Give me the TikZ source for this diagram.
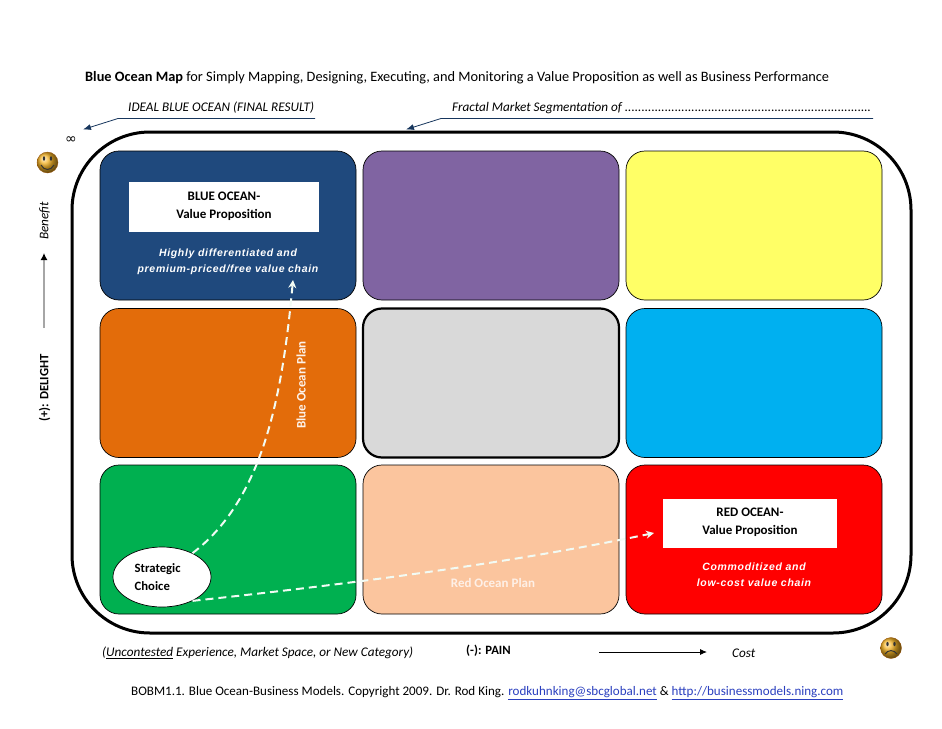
\documentclass[tikz,border=0pt]{standalone}
\usepackage{fontspec}
\setmainfont{Carlito}
\newfontfamily\arialf[LetterSpace=6.5]{Liberation Sans}
\newfontfamily\dejavuf{DejaVu Sans}
\usetikzlibrary{arrows.meta,shapes.geometric}
\definecolor{navy}{HTML}{17365D}
\definecolor{lnk}{HTML}{2A3FBF}
\definecolor{cblue}{HTML}{1F497D}
\definecolor{cpurple}{HTML}{8064A2}
\definecolor{cyellow}{HTML}{FFFF66}
\definecolor{corange}{HTML}{E36C0A}
\definecolor{cgray}{HTML}{D9D9D9}
\definecolor{ccyan}{HTML}{00B0F0}
\definecolor{cgreen}{HTML}{00B050}
\definecolor{cpeach}{HTML}{FBC59E}
\definecolor{cred}{HTML}{FF0000}
\definecolor{dashw}{HTML}{F2FBF4}
\definecolor{faceo}{HTML}{F5B324}
\tikzset{
 cell/.style={draw=black,line width=.7pt,rounded corners=19pt,minimum width=256pt,minimum height=149pt,inner sep=0pt},
 vbox/.style={fill=white,inner sep=0pt,align=center,font=\fontsize{13}{18}\selectfont\bfseries},
 slogan/.style={text=white,align=center,inner sep=0pt,font=\arialf\fontsize{10.5}{16}\selectfont\bfseries\itshape},
 lab/.style={inner sep=0pt,font=\fontsize{13.05}{15}\selectfont},
 ilab/.style={inner sep=0pt,font=\fontsize{13.2}{15}\selectfont\itshape},
 blab/.style={inner sep=0pt,font=\fontsize{12.7}{15}\selectfont\bfseries},
 pointer/.style={draw=navy,line width=.8pt,-{Latex[length=8pt,width=6pt]}},
 plan/.style={draw=dashw,line width=2pt,dash pattern=on 8pt off 5pt,-{Stealth[length=8pt,width=8pt]}},
 axis/.style={line width=.9pt,-{Latex[length=7pt,width=6pt]}},
 garrow/.style={draw=black!35,line width=1.3pt,-{Latex[length=7pt,width=7pt,black]}},
 face/.style={circle,minimum size=21pt,inner sep=0pt,ball color=faceo,draw=orange!60!black,line width=.3pt},
 planlab/.style={inner sep=0pt,font=\fontsize{13}{15}\selectfont\bfseries},
}
\begin{document}
\begin{tikzpicture}[x=1pt,y=-1pt]
\useasboundingbox (0,0) rectangle (942,728);
\fill[white] (0,0) rectangle (942,728);
% frame
\node[draw=black,line width=3pt,rounded corners=78pt,minimum width=839pt,minimum height=501pt,inner sep=0pt] (frame) at (491.5,382.5) {};
% cells
\node[cell,fill=cblue] (c11) at (228,225.5) {};
\node[cell,fill=cpurple] (c12) at (491,225.5) {};
\node[cell,fill=cyellow] (c13) at (754,225.5) {};
\node[cell,fill=corange] (c21) at (228,383) {};
\node[cell,fill=cgray,line width=2.2pt] (c22) at (491,383) {};
\node[cell,fill=ccyan] (c23) at (754,383) {};
\node[cell,fill=cgreen] (c31) at (228,539.5) {};
\node[cell,fill=cpeach] (c32) at (491,539.5) {};
\node[cell,fill=cred] (c33) at (754,539.5) {};
% value boxes
\node[vbox,minimum width=190pt,minimum height=50pt] (bv) at (224,207) {BLUE OCEAN-\\Value Proposition\\[-14pt]};
\node[vbox,minimum width=174pt,minimum height=49pt] (rv) at (750,523.5) {RED OCEAN-\\Value Proposition\\[-14pt]};
\node[slogan] (bs) at (228,262) {Highly differentiated and\\premium-priced/free value chain};
\node[slogan] (rs) at (754,575) {Commoditized and\\low-cost value chain};
% strategic choice
\node[ellipse,draw=black,line width=.7pt,fill=white,minimum width=98pt,minimum height=60pt,inner sep=0pt] (sc) at (162,577) {};
\node[anchor=west,align=left,inner sep=0pt,font=\fontsize{12.7}{18}\selectfont\bfseries] (sct) at (134.5,577) {Strategic\\Choice};
% plan arrows
\coordinate (bend) at (293,280);
\coordinate (rend) at (654,533);
\draw[plan] (sc.38) .. controls (262,500) and (282,400) .. (bend);
\draw[plan] (sc.-38) .. controls (340,585) and (500,565) .. (rend);
\node[rotate=90,planlab,text=white!92!corange] (bp) at (301,385) {Blue Ocean Plan};
\node[planlab,text=white!75!cpeach] (rp) at (493,583) {Red Ocean Plan};
% title and top labels
\node[anchor=west,inner sep=0pt,font=\fontsize{14.33}{16}\selectfont] (title) at (85,77.5) {\textbf{Blue Ocean Map} for Simply Mapping, Designing, Executing, and Monitoring a Value Proposition as well as Business Performance};
\node[ilab,anchor=west] (ideal) at (128,108) {IDEAL BLUE OCEAN (FINAL RESULT)};
\node[ilab,anchor=west] (fractal) at (452,108) {Fractal Market Segmentation of ..........................................................................};
\coordinate (i0) at (315,118.5);
\coordinate (i1) at (118,118.5);
\coordinate (i2) at (83,129.5);
\coordinate (f0) at (873,118.5);
\coordinate (f1) at (441,118.5);
\coordinate (f2) at (406,129.5);
\draw[pointer] (i0) -- (i1) -- (i2);
\draw[pointer] (f0) -- (f1) -- (f2);
\node[inner sep=0pt,font=\dejavuf\fontsize{14}{15}\selectfont] (inf) at (71,140) {∞};
% left axis
\node[face] (happy) at (47.5,162.5) {};
\fill[black!80] (44,158.5) ellipse (1.2pt and 2.2pt) (51,158.5) ellipse (1.2pt and 2.2pt);
\draw[black!80,line width=1pt] (41,165) .. controls (44,171) and (51,171) .. (54,165);
\node[rotate=90,ilab] (benefit) at (44.5,221) {Benefit};
\node[rotate=90,blab] (delight) at (44.5,388) {(+): DELIGHT};
\coordinate (ay0) at (44,328);
\coordinate (ay1) at (44,253);
\draw[garrow] (ay0) -- (ay1);
% bottom axis
\node[ilab,anchor=west] (unc) at (102,653) {(\underline{Uncontested} Experience, Market Space, or New Category)};
\node[blab,anchor=west] (pain) at (466,651) {(-): PAIN};
\coordinate (ax0) at (599,652);
\coordinate (ax1) at (707,652);
\draw[axis] (ax0) -- (ax1);
\node[ilab,anchor=west] (cost) at (732,653) {Cost};
\node[face] (sad) at (891,648) {};
\fill[black!80] (887.5,644) ellipse (1.2pt and 2.2pt) (894.5,644) ellipse (1.2pt and 2.2pt);
\draw[black!80,line width=1pt] (885,654) .. controls (888,649.5) and (894,649.5) .. (897,654);
% footer
\node[lab,anchor=west] (foot) at (131,693) {BOBM1.1. Blue Ocean-Business Models. Copyright 2009. Dr. Rod King. \textcolor{lnk}{\underline{rodkuhnking@sbcglobal.net}} \& \textcolor{lnk}{\underline{http://businessmodels.ning.com}}};
\end{tikzpicture}
\end{document}
